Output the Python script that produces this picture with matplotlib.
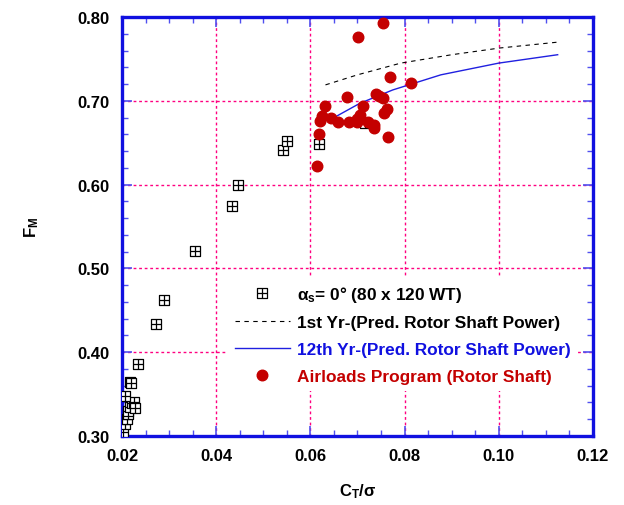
import matplotlib
matplotlib.use("Agg")
import matplotlib.pyplot as plt
from matplotlib.path import Path
from matplotlib.ticker import MultipleLocator

plt.rcParams["font.family"] = ["Liberation Sans", "DejaVu Sans"]
plt.rcParams["font.weight"] = "bold"
plt.rcParams["mathtext.fontset"] = "custom"
plt.rcParams["mathtext.rm"] = "Liberation Sans:bold"
plt.rcParams["mathtext.it"] = "Liberation Sans:bold"
plt.rcParams["mathtext.bf"] = "Liberation Sans:bold"

# 80 x 120 wind tunnel test points (alpha_s = 0 deg)
wt_ct = [0.0203, 0.0206, 0.0210, 0.0212, 0.0213, 0.0217, 0.0222, 0.0225, 0.0227, 0.0206,
         0.0216, 0.0219, 0.0234, 0.0272, 0.0289, 0.0355, 0.0434, 0.0447, 0.0542, 0.0551,
         0.0619, 0.0717]
wt_fm = [0.305, 0.314, 0.320, 0.326, 0.330, 0.335, 0.339, 0.340, 0.333, 0.348,
         0.364, 0.363, 0.386, 0.434, 0.462, 0.521, 0.575, 0.600, 0.641, 0.652,
         0.648, 0.674]

# first-year prediction (rotor shaft power)
yr1_ct = [0.0632, 0.070, 0.0792, 0.090, 0.1002, 0.1125]
yr1_fm = [0.719, 0.731, 0.745, 0.755, 0.763, 0.770]

# twelfth-year prediction (rotor shaft power)
yr12_ct = [0.0647, 0.0705, 0.0775, 0.0877, 0.1000, 0.1125]
yr12_fm = [0.679, 0.697, 0.713, 0.731, 0.745, 0.755]

# Airloads program, rotor shaft
al_ct = [0.0755, 0.0702, 0.0770, 0.0813, 0.0677, 0.0740, 0.0745, 0.0755, 0.0711, 0.0632,
         0.0625, 0.0621, 0.0644, 0.0658, 0.0681, 0.0700, 0.0705, 0.0698, 0.0723, 0.0736,
         0.0735, 0.0762, 0.0757, 0.0764, 0.0619, 0.0613]
al_fm = [0.793, 0.776, 0.728, 0.721, 0.705, 0.708, 0.706, 0.703, 0.694, 0.694,
         0.682, 0.676, 0.679, 0.675, 0.675, 0.678, 0.683, 0.675, 0.675, 0.671,
         0.668, 0.690, 0.686, 0.657, 0.660, 0.622]

# square with a cross inside
box_plus = Path(
    [(-1, -1), (1, -1), (1, 1), (-1, 1), (-1, -1), (0, -1), (0, 1), (-1, 0), (1, 0)],
    [Path.MOVETO, Path.LINETO, Path.LINETO, Path.LINETO, Path.CLOSEPOLY,
     Path.MOVETO, Path.LINETO, Path.MOVETO, Path.LINETO],
)

fig = plt.figure(figsize=(6.24, 5.06), dpi=100)
ax = fig.add_axes([0.1955, 0.1364, 0.7548, 0.828])

ax.plot(wt_ct, wt_fm, linestyle="none", marker=box_plus, markersize=7.3,
        markerfacecolor="white", markeredgecolor="black", markeredgewidth=0.9,
        label=r"$\alpha_s$= 0° (80 x 120 WT)", zorder=3)
ax.plot(yr1_ct, yr1_fm, color="black", linestyle=(0, (4, 4)), linewidth=0.8,
        label="1st Yr-(Pred. Rotor Shaft Power)", zorder=4)
ax.plot(yr12_ct, yr12_fm, color="#2020e0", linewidth=1.0,
        label="12th Yr-(Pred. Rotor Shaft Power)", zorder=4)
ax.plot(al_ct, al_fm, linestyle="none", marker="o", markersize=7.6,
        color="#c40000", label="Airloads Program (Rotor Shaft)", zorder=5)

ax.set_xlim(0.02, 0.12)
ax.set_ylim(0.30, 0.80)
ax.xaxis.set_major_locator(MultipleLocator(0.02))
ax.xaxis.set_minor_locator(MultipleLocator(0.005))
ax.yaxis.set_major_locator(MultipleLocator(0.10))
ax.yaxis.set_minor_locator(MultipleLocator(0.02))
ax.xaxis.set_major_formatter(lambda v, p: f"{v:.2f}")
ax.yaxis.set_major_formatter(lambda v, p: f"{v:.2f}")

ax.grid(True, which="major", color="#ff0080", linestyle=(0, (2, 2)), linewidth=1.0)
ax.set_axisbelow(True)

for s in ax.spines.values():
    s.set_color("#1010e0")
    s.set_linewidth(2.4)
ax.tick_params(which="both", direction="in", top=True, right=True, color="#5050f0",
               labelsize=12)
ax.tick_params(which="major", length=7, width=1.2)
ax.tick_params(which="minor", length=4, width=1.0)
ax.tick_params(axis="y", pad=9)
ax.tick_params(axis="x", pad=9)

ax.set_xlabel(r"$C_T/\sigma$", fontsize=12, labelpad=13)
ax.set_ylabel(r"$F_M$", fontsize=12, labelpad=26)

leg = ax.legend(loc="upper left", bbox_to_anchor=(0.225, 0.38), frameon=True,
                fontsize=12.4, handlelength=3.2, handletextpad=0.4, labelspacing=0.68,
                borderpad=0.4, borderaxespad=0)
leg.get_frame().set_facecolor("white")
leg.get_frame().set_edgecolor("none")
leg.get_frame().set_alpha(1.0)
for txt, col in zip(leg.get_texts(), ["black", "black", "#1010e0", "#c40000"]):
    txt.set_color(col)

fig.savefig("out.png", dpi=100)
